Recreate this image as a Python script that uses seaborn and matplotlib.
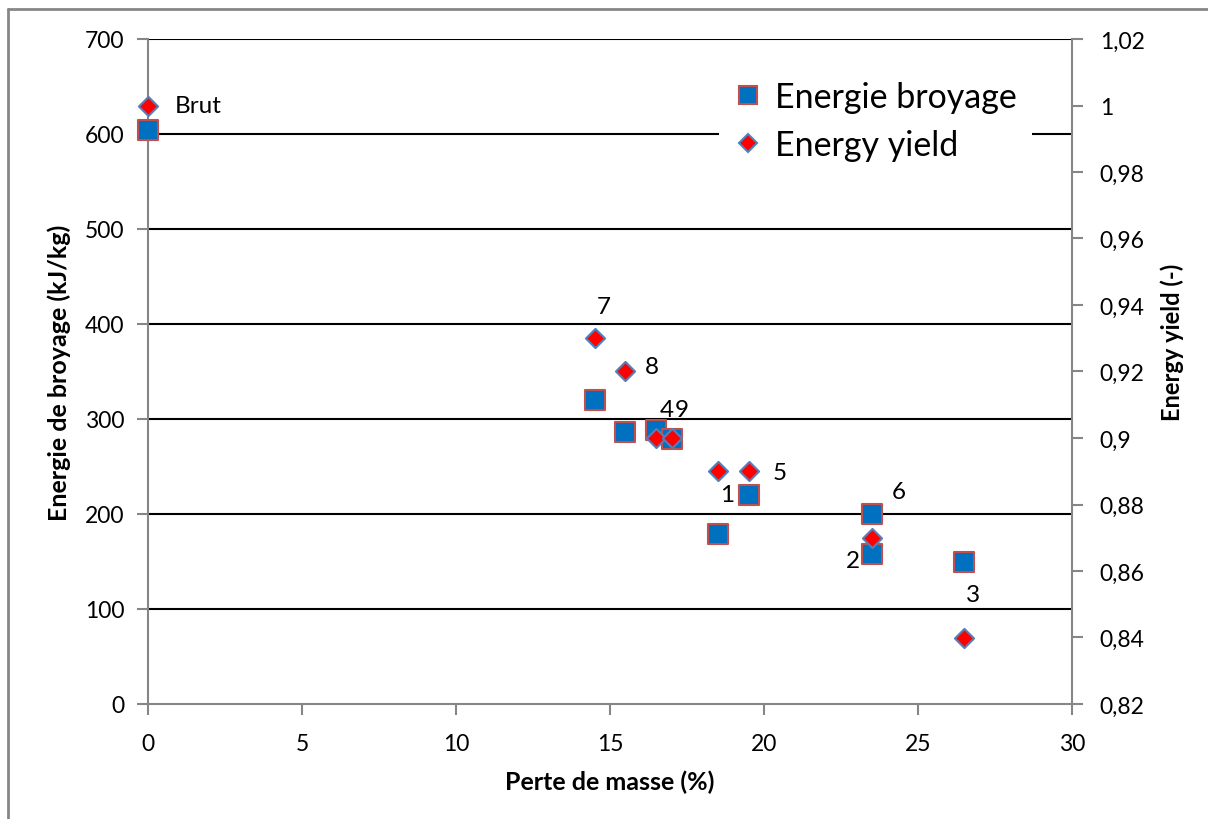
import matplotlib
matplotlib.use('Agg')
import matplotlib.pyplot as plt
import seaborn as sns
import pandas as pd
from matplotlib.ticker import FuncFormatter, MultipleLocator
from matplotlib.lines import Line2D

sns.set_style('white')
plt.rcParams['font.family'] = ['Lato', 'DejaVu Sans']
plt.rcParams.update({'text.color': 'black', 'axes.labelcolor': 'black',
                     'xtick.labelcolor': 'black', 'ytick.labelcolor': 'black'})

# Perte de masse (%) and energy values
perte_masse = [0, 14.5, 15.5, 16.5, 17, 18.5, 19.5, 23.5, 23.5, 26.5]
energie_broyage = [604, 320, 286, 288, 279, 179, 220, 200, 158, 150]
perte_yield = [0, 14.5, 15.5, 16.5, 17, 18.5, 19.5, 23.5, 26.5]
energy_yield = [1.0, 0.93, 0.92, 0.90, 0.90, 0.89, 0.89, 0.87, 0.84]

# point labels: (text, x, y, which axis, offset in px, ha)
labels = [
    ('Brut', 0, 1.0, 'right', (27, 0), 'left'),
    ('7', 14.5, 0.93, 'right', (9, 32), 'center'),
    ('8', 15.5, 0.92, 'right', (26, 5), 'center'),
    ('4', 16.5, 0.90, 'right', (11, 28), 'center'),
    ('9', 17, 0.90, 'right', (10, 28), 'center'),
    ('5', 19.5, 0.89, 'right', (31, -1), 'center'),
    ('1', 19.5, 220, 'left', (-21, 0), 'center'),
    ('6', 23.5, 200, 'left', (27, 22), 'center'),
    ('2', 23.5, 158, 'left', (-19, -7), 'center'),
    ('3', 26.5, 0.84, 'right', (9, 43), 'center'),
]

df_e = pd.DataFrame({'perte': perte_masse, 'energie': energie_broyage})
df_y = pd.DataFrame({'perte': perte_yield, 'yield': energy_yield})

fig = plt.figure(figsize=(12.08, 8.2), dpi=100)
ax = fig.add_axes([148/1208, 1-705/820, (1072-148)/1208, (705-40)/820])
ax2 = ax.twinx()

gray = '#868686'
sq_face, sq_edge = '#0070C0', '#C0504D'
di_face, di_edge = '#FF0000', '#4F81BD'

sns.scatterplot(data=df_e, x='perte', y='energie', ax=ax, marker='s', s=190,
                color=sq_face, edgecolor=sq_edge, linewidth=1.5, zorder=3,
                legend=False, clip_on=False)
sns.scatterplot(data=df_y, x='perte', y='yield', ax=ax2, marker='D', s=95,
                color=di_face, edgecolor=di_edge, linewidth=1.5, zorder=3,
                legend=False, clip_on=False)

ax.set_xlim(0, 30)
ax.set_ylim(0, 700)
ax2.set_ylim(0.82, 1.02)
ax.xaxis.set_major_locator(MultipleLocator(5))
ax.yaxis.set_major_locator(MultipleLocator(100))
ax2.yaxis.set_major_locator(MultipleLocator(0.02))
ax2.yaxis.set_major_formatter(FuncFormatter(lambda v, p: ('%g' % round(v, 2)).replace('.', ',')))

for yv in range(100, 701, 100):
    ax.axhline(yv, color='black', lw=1.5, zorder=1)

for a in (ax, ax2):
    a.spines['top'].set_visible(False)
    for side in ('left', 'bottom', 'right'):
        a.spines[side].set_color(gray)
        a.spines[side].set_linewidth(1.5)
ax.spines['right'].set_visible(False)
ax2.spines['left'].set_visible(False)
ax2.spines['bottom'].set_visible(False)

ax.tick_params(axis='y', direction='out', length=8, width=1.5, color=gray, labelsize=16.5, pad=9, left=True)
ax.tick_params(axis='x', direction='out', length=8, width=1.5, color=gray, labelsize=16.5, pad=13, bottom=True)
ax2.tick_params(axis='y', direction='out', length=8, width=1.5, color=gray, labelsize=16.5, pad=12, right=True)

ax.set_xlabel('Perte de masse (%)', fontsize=18, fontweight='bold', labelpad=11)
ax.set_ylabel('Energie de broyage (kJ/kg)', fontsize=18, fontweight='bold', labelpad=10)
ax2.set_ylabel('Energy yield (-)', fontsize=17, fontweight='bold', va='center')
ax2.yaxis.set_label_coords(1.108, 0.546)

for txt, xv, yv, which, off, ha in labels:
    target = ax2 if which == 'right' else ax
    target.annotate(txt, (xv, yv), xytext=(off[0]*0.72, off[1]*0.72), textcoords='offset points',
                    ha=ha, va='center', fontsize=17.5, zorder=5)

handles = [
    Line2D([], [], ls='none', marker='s', markersize=13, markerfacecolor=sq_face,
           markeredgecolor=sq_edge, markeredgewidth=1.5, label='Energie broyage'),
    Line2D([], [], ls='none', marker='D', markersize=9, markerfacecolor=di_face,
           markeredgecolor=di_edge, markeredgewidth=1.5, label='Energy yield'),
]
leg = ax2.legend(handles=handles, loc='upper right', bbox_to_anchor=(0.975, 0.985), fontsize=24.5,
                 frameon=True, fancybox=False, handlelength=0.8, handletextpad=0.4,
                 labelspacing=0.45, borderpad=0.45)
leg.get_frame().set_facecolor('white')
leg.get_frame().set_edgecolor('none')
leg.get_frame().set_alpha(1)
leg.set_zorder(10)

# chart area border (top and left visible)
fig.add_artist(Line2D([8/1208, 1], [1-10/820, 1-10/820], color=gray, lw=2, transform=fig.transFigure))
fig.add_artist(Line2D([8/1208, 8/1208], [0, 1-10/820], color=gray, lw=2, transform=fig.transFigure))

fig.savefig('out.png', dpi=100, facecolor='white')
